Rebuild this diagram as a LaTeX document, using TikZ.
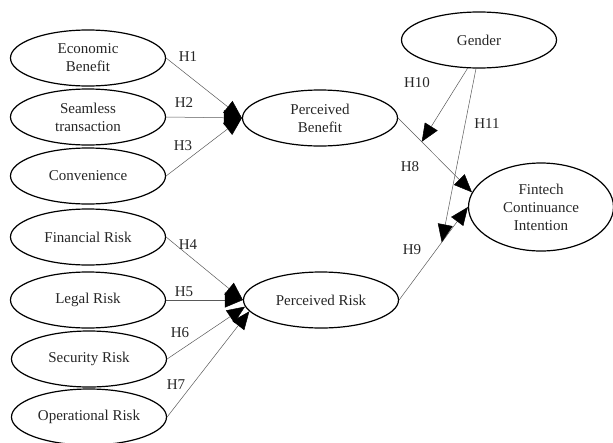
\documentclass[tikz,border=0pt]{standalone}
\usepackage{fontspec}
\setmainfont{Liberation Serif}
\usetikzlibrary{arrows.meta,shapes.geometric,calc}

\begin{document}
\begin{tikzpicture}[
      x=1pt, y=-1pt,
      font=\fontsize{15}{18}\selectfont,
      text=black!85,
      var/.style={draw, ellipse, line width=1.2pt, minimum width=155pt, minimum height=56pt, inner sep=0pt, align=center},
      arr/.style={-{Triangle[length=18pt, width=15pt, color=black]}, line width=0.5pt, draw=black!65},
      lbl/.style={inner sep=0pt}
    ]
    \useasboundingbox (0,0) rectangle (613,442);
    % antecedents
    \node[var] (eb) at (88,58) {Economic\\ Benefit};
    \node[var] (st) at (88,117) {Seamless\\ transaction};
    \node[var] (cv) at (88,176) {Convenience};
    \node[var] (fr) at (88,237) {Financial Risk};
    \node[var] (lr) at (88,300) {Legal Risk};
    \node[var] (sr) at (89,359) {Security Risk};
    \node[var] (or) at (89,417) {Operational Risk};
    % mediators, moderator and outcome
    \node[var] (pb) at (320,118) {Perceived\\ Benefit};
    \node[var] (pr) at (321,300) {Perceived Risk};
    \node[var] (gd) at (479,40) {Gender};
    \node[var, minimum width=145pt, minimum height=88pt] (fci) at (541,207) {Fintech\\ Continuance\\ Intention};

    \draw[arr] (eb.east) -- (pb.west);
    \draw[arr] (st.east) -- (pb.west);
    \draw[arr] (cv.east) -- (pb.west);
    \draw[arr] (fr.east) -- (pr.west);
    \draw[arr] (lr.east) -- (pr.west);
    \draw[arr] (sr.east) -- (pr.185);
    \draw[arr] (or.east) -- (pr.189);
    \draw[arr] (pb.east) -- (fci.168);
    \draw[arr] (pr.east) -- (fci.west);
    \coordinate (m8) at ($(pb.east)!0.32!(fci.168)$);
    \coordinate (m9) at ($(pr.east)!0.62!(fci.west)$);
    \draw[arr] (gd.248) -- (m8);
    \draw[arr] (gd.264) -- (m9);

    \node[lbl] (h1) at (188,57) {H1};
    \node[lbl] (h2) at (184,103) {H2};
    \node[lbl] (h3) at (183,146) {H3};
    \node[lbl] (h4) at (188,245) {H4};
    \node[lbl] (h5) at (184,292) {H5};
    \node[lbl] (h6) at (180,333) {H6};
    \node[lbl] (h7) at (176,385) {H7};
    \node[lbl] (h8) at (410,167) {H8};
    \node[lbl] (h9) at (412,250) {H9};
    \node[lbl] (h10) at (417,83) {H10};
    \node[lbl] (h11) at (487,124) {H11};
  \end{tikzpicture}
\end{document}
